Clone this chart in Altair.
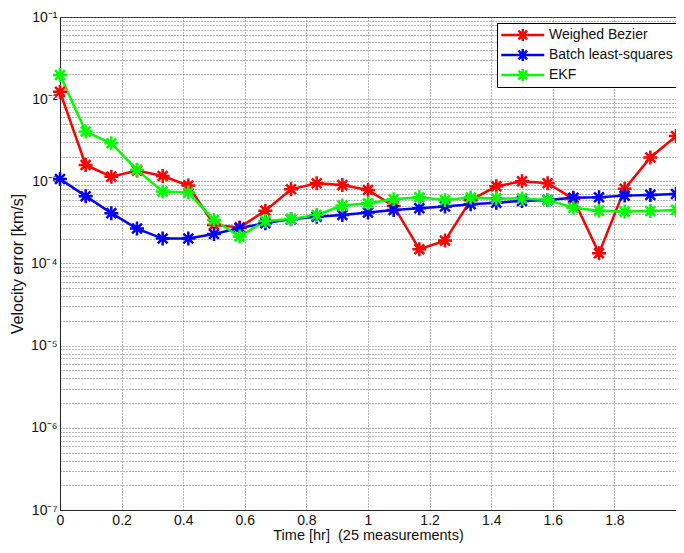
import altair as alt
import pandas as pd

times = [0.0, 0.0833, 0.1667, 0.25, 0.3333, 0.4167, 0.5, 0.5833, 0.6667, 0.75,
         0.8333, 0.9167, 1.0, 1.0833, 1.1667, 1.25, 1.3333, 1.4167, 1.5, 1.5833,
         1.6667, 1.75, 1.8333, 1.9167, 2.0]

bezier = [1.23e-2, 1.58e-3, 1.14e-3, 1.35e-3, 1.16e-3, 8.9e-4, 2.95e-4, 2.75e-4, 4.4e-4, 8.0e-4,
          9.5e-4, 9.0e-4, 7.85e-4, 5.0e-4, 1.49e-4, 1.9e-4, 5.9e-4, 8.7e-4, 1.0e-3, 9.5e-4,
          6.1e-4, 1.33e-4, 8.1e-4, 1.95e-3, 3.55e-3]

batch = [1.07e-3, 6.6e-4, 4.1e-4, 2.66e-4, 2.01e-4, 2.01e-4, 2.29e-4, 2.7e-4, 3.1e-4, 3.46e-4,
         3.7e-4, 3.9e-4, 4.17e-4, 4.49e-4, 4.7e-4, 4.93e-4, 5.26e-4, 5.5e-4, 5.78e-4, 5.94e-4,
         6.3e-4, 6.4e-4, 6.7e-4, 6.84e-4, 7.0e-4]

ekf = [1.97e-2, 4.03e-3, 2.9e-3, 1.38e-3, 7.5e-4, 7.3e-4, 3.39e-4, 2.13e-4, 3.3e-4, 3.49e-4,
       3.9e-4, 5.07e-4, 5.41e-4, 6.05e-4, 6.4e-4, 5.94e-4, 6.34e-4, 6.2e-4, 6.2e-4, 5.94e-4,
       4.78e-4, 4.4e-4, 4.28e-4, 4.36e-4, 4.49e-4]

series_names = ["Weighed Bezier", "Batch least-squares", "EKF"]
series_colors = ["#ff0000", "#0000ff", "#00ff00"]

x_ticks = [0, 0.2, 0.4, 0.6, 0.8, 1.0, 1.2, 1.4, 1.6, 1.8]
y_grid = [m * 10.0 ** e for e in range(-7, -1) for m in range(1, 10)] + [0.1]

rows = []
for name, vals in zip(series_names, [bezier, batch, ekf]):
    for t, v in zip(times, vals):
        rows.append({"t": t, "v": v, "series": name})
df = pd.DataFrame(rows)

FONT = "Liberation Sans"
star = "M0,-1V1M-1,0H1M-0.7,-0.7L0.7,0.7M-0.7,0.7L0.7,-0.7"
legend_sym = ("M-1.2,0H5.96M2.38,-1V1M1.38,0H3.38"
              "M1.66,-0.72L3.1,0.72M1.66,0.72L3.1,-0.72")

sup_expr = ("'10' + replace(replace(replace(replace(replace(replace(replace(replace("
            "'' + round(log(datum.value)/LN10), '-', '⁻'), '1', '¹'), '2', '²'), '3', '³'), "
            "'4', '⁴'), '5', '⁵'), '6', '⁶'), '7', '⁷')")
y_label_expr = ("abs(log(datum.value)/LN10 - round(log(datum.value)/LN10)) < 0.001 ? "
                + sup_expr + " : ''")

x_enc = alt.X("t:Q", scale=alt.Scale(domain=[0, 2], nice=False, zero=False),
              axis=alt.Axis(values=x_ticks, title="Time [hr]\u00a0 (25 measurements)", format="~g",
                            grid=True, gridDash=[1, 2], gridColor="#777", gridOpacity=1,
                            ticks=False, labelPadding=3, titlePadding=1,
                            labelFontSize=14, titleFontSize=14.5, titleFontWeight="normal",
                            labelFlush=False, labelOverlap=False))
y_enc = alt.Y("v:Q", scale=alt.Scale(type="log", domain=[1e-7, 1e-1], nice=False),
              axis=alt.Axis(values=y_grid, title="Velocity error [km/s]",
                            grid=True, gridDash=[1, 2], gridColor="#777", gridOpacity=1,
                            ticks=False, labelPadding=3, titlePadding=5,
                            labelFontSize=14, titleFontSize=16, titleFontWeight="normal",
                            labelOverlap=False, labelFlush=False,
                            labelExpr=y_label_expr))

lines = alt.Chart(df).mark_line(strokeWidth=2.5).encode(
    x=x_enc, y=y_enc,
    color=alt.Color("series:N", scale=alt.Scale(domain=series_names, range=series_colors),
                    legend=alt.Legend(orient="none", legendX=437, legendY=6, title=None,
                                      symbolType=legend_sym, symbolSize=144,
                                      symbolStrokeWidth=2.5, labelFontSize=14,
                                      labelFont=FONT, labelOffset=33, labelColor="#111",
                                      strokeColor="#000", fillColor="white",
                                      padding=4, rowPadding=4, clipHeight=16,
                                      cornerRadius=0)),
    order="t:Q")
points = alt.Chart(df).mark_point(shape=star, filled=False, size=196, strokeWidth=2.5, opacity=1).encode(
    x=x_enc, y=y_enc,
    color=alt.Color("series:N", scale=alt.Scale(domain=series_names, range=series_colors), legend=None))

chart = alt.layer(lines, points).properties(
    width=616, height=493,
    autosize=alt.AutoSizeParams(type="none"),
    padding={"left": 52, "top": 9, "right": 0, "bottom": 36},
).configure(font=FONT).configure_view(stroke="#222", strokeWidth=1).configure_axis(
    domainColor="#222", labelColor="#111", titleColor="#111", labelFont=FONT, titleFont=FONT)

chart.save("out.html", embed_options={"renderer": "svg", "actions": False})
